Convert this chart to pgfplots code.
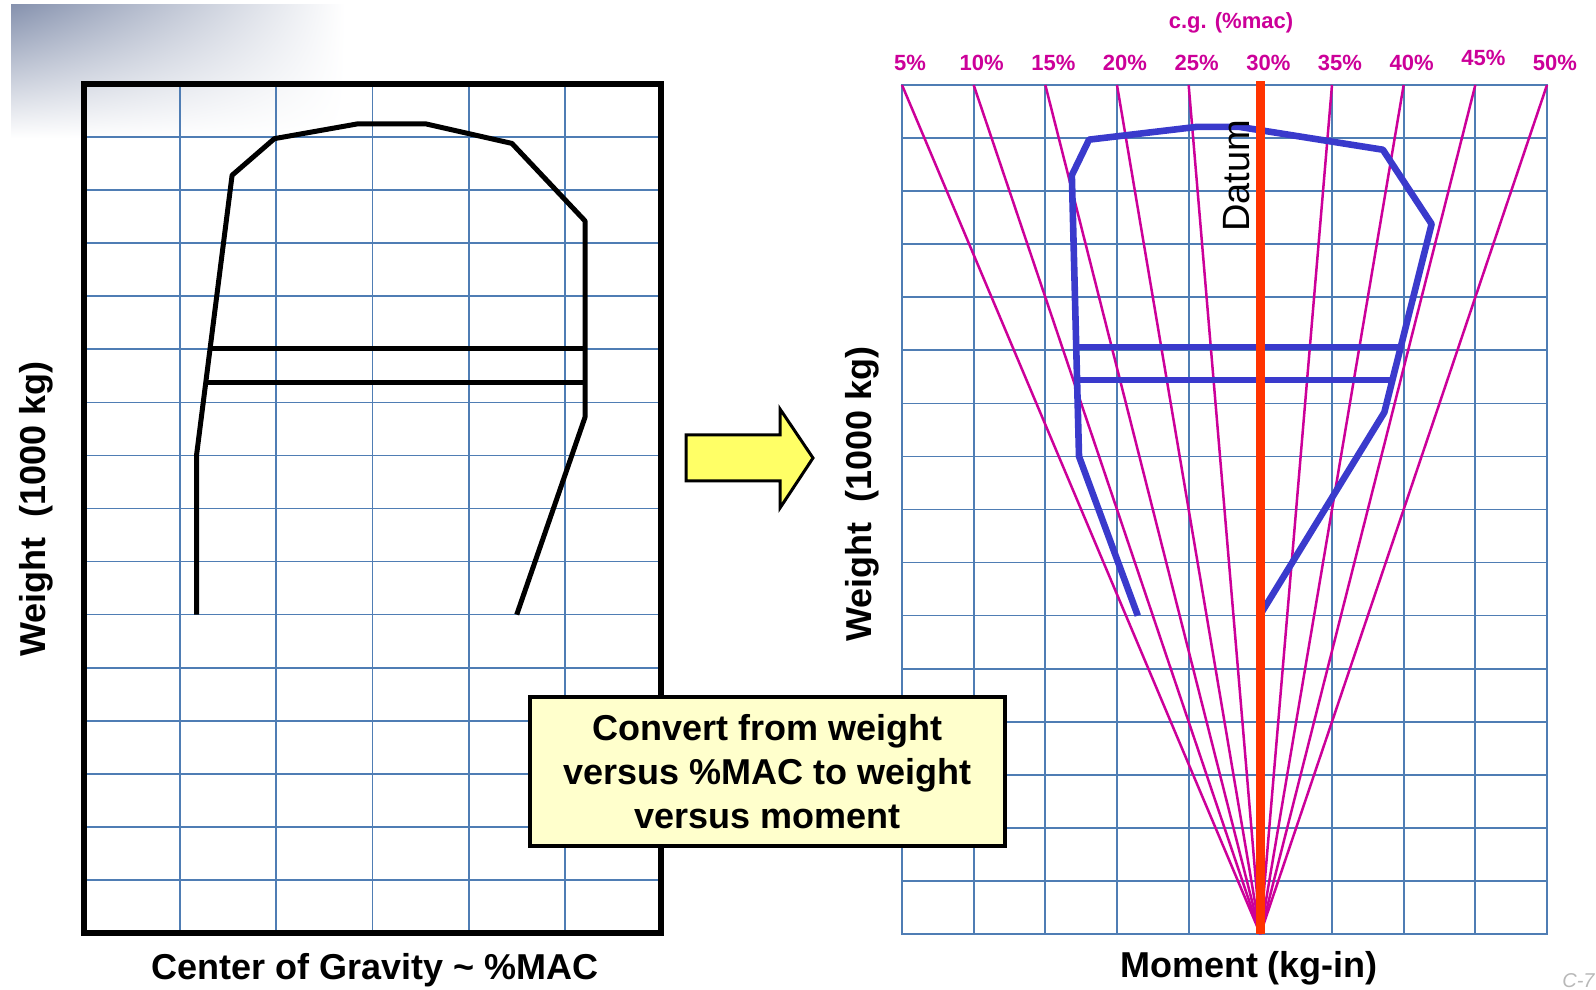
\documentclass[border=0pt]{standalone}
\usepackage{fontspec}
\setmainfont{Liberation Sans}
\usepackage{pgfplots}
\pgfplotsset{compat=1.18}
\usetikzlibrary{shadings}

\definecolor{gridblue}{HTML}{4F7DB4}
\definecolor{mag}{HTML}{CC0099}
\definecolor{env}{HTML}{3A3ACC}
\definecolor{datum}{HTML}{FF3300}
\definecolor{boxfill}{HTML}{FFFFCC}
\definecolor{arrowfill}{HTML}{FFFF66}
\definecolor{shadecol}{HTML}{8692AE}

\newcommand{\bigtxt}{\fontsize{18}{21.9}\selectfont}
\newcommand{\smalltxt}{\fontsize{11}{13}\selectfont}

% weight vs %MAC envelope
\pgfplotstableread{
x y
1.17 6.00
1.17 9.00
1.54 14.28
1.98 14.97
2.85 15.25
3.55 15.25
4.45 14.88
5.21 13.42
5.21 9.72
4.50 6.00
}\envmac

% weight vs moment envelope
\pgfplotstableread{
x y
3.29 6.00
2.47 9.00
2.37 14.30
2.61 14.97
4.11 15.21
4.71 15.21
6.71 14.78
7.39 13.38
6.73 9.83
5.00 6.02
}\envmom

\begin{document}
\begin{tikzpicture}
\begin{scope}[x=0.5pt,y=0.5pt]
\path[use as bounding box] (0,0) rectangle (1596,990);
% corner shading
\shade[upper left=shadecol, upper right=white, lower left=white, lower right=white]
  (11,985) rectangle (345,852);
% page tag
\node[anchor=south east, inner sep=0pt, text=black!28, font=\itshape\fontsize{10}{12}\selectfont] at (1595,2) {C-7};
\end{scope}

% left: weight vs %MAC
\begin{axis}[
    at={(42pt,28.5pt)}, anchor=south west,
    scale only axis, width=288.5pt, height=424.5pt,
    xmin=0, xmax=6, ymin=0, ymax=16,
    xtick={1,...,5}, ytick={1,...,15},
    xticklabels={,,}, yticklabels={,,},
    major tick length=0pt,
    grid=major,
    grid style={gridblue, line width=0.85pt},
    axis line style={black, line width=3pt},
]
\addplot[black, line width=2.5pt, line join=round] table {\envmac};
\addplot[black, line width=2.5pt] coordinates {(1.30,11.02)(5.21,11.02)};
\addplot[black, line width=2.5pt] coordinates {(1.27,10.37)(5.21,10.37)};
\end{axis}

% right: weight vs moment
\begin{axis}[
    at={(451pt,28pt)}, anchor=south west,
    scale only axis, width=322.5pt, height=424.5pt,
    xmin=0, xmax=9, ymin=0, ymax=16,
    xtick={0,...,9}, ytick={1,...,15},
    xticklabel pos=upper,
    xticklabels={5\%,10\%,15\%,20\%,25\%,30\%,35\%,40\%,\raisebox{2.5pt}{45\%},50\%},
    xticklabel style={text=mag, font=\bfseries\smalltxt, xshift=4pt, yshift=3.5pt},
    yticklabels={,,},
    major tick length=0pt,
    grid=major,
    grid style={gridblue, line width=0.85pt},
    axis line style={gridblue, line width=0.85pt},
    clip=false,
]
\addplot[mag, line width=1.25pt] coordinates {(5,0)(0,16)};
\addplot[mag, line width=1.25pt] coordinates {(5,0)(1,16)};
\addplot[mag, line width=1.25pt] coordinates {(5,0)(2,16)};
\addplot[mag, line width=1.25pt] coordinates {(5,0)(3,16)};
\addplot[mag, line width=1.25pt] coordinates {(5,0)(4,16)};
\addplot[mag, line width=1.25pt] coordinates {(5,0)(6,16)};
\addplot[mag, line width=1.25pt] coordinates {(5,0)(7,16)};
\addplot[mag, line width=1.25pt] coordinates {(5,0)(8,16)};
\addplot[mag, line width=1.25pt] coordinates {(5,0)(9,16)};
\addplot[env, line width=3.3pt, line join=round] table {\envmom};
\addplot[env, line width=3.3pt] coordinates {(2.45,11.06)(6.94,11.06)};
\addplot[env, line width=3.3pt] coordinates {(2.43,10.44)(6.83,10.44)};
\addplot[datum, line width=4.3pt] coordinates {(5,0)(5,16.08)};
\end{axis}

\begin{scope}[x=0.5pt,y=0.5pt]
% labels
\node[rotate=90, font=\bfseries\bigtxt] at (36,481) {Weight\ \ (1000 kg)};
\node[rotate=90, font=\bfseries\bigtxt] at (862,496) {Weight\ \ (1000 kg)};
\node[anchor=base, inner sep=0pt, font=\bfseries\bigtxt] at (375,10) {Center of Gravity \textasciitilde\ \%MAC};
\node[anchor=base, inner sep=0pt, font=\bfseries\bigtxt] at (1249,12) {Moment (kg-in)};
\node[font=\bfseries\smalltxt, text=mag] at (1231,967) {c.g. (\%mac)};
\node[rotate=90, font=\fontsize{19}{23}\selectfont] at (1237,814) {Datum};

% arrow
\filldraw[fill=arrowfill, draw=black, line width=1.5pt, line join=miter]
  (686,555) -- (780,555) -- (780,581) -- (813,532) -- (780,482) -- (780,509) -- (686,509) -- cycle;

% note box
\node[draw=black, line width=2.3pt, fill=boxfill, minimum width=237.5pt, minimum height=74.5pt,
      align=center, font=\bfseries\bigtxt, inner sep=0pt] at (767.5,218.5)
  {Convert from weight\\versus \%MAC to weight\\versus moment};
\end{scope}
\end{tikzpicture}
\end{document}
